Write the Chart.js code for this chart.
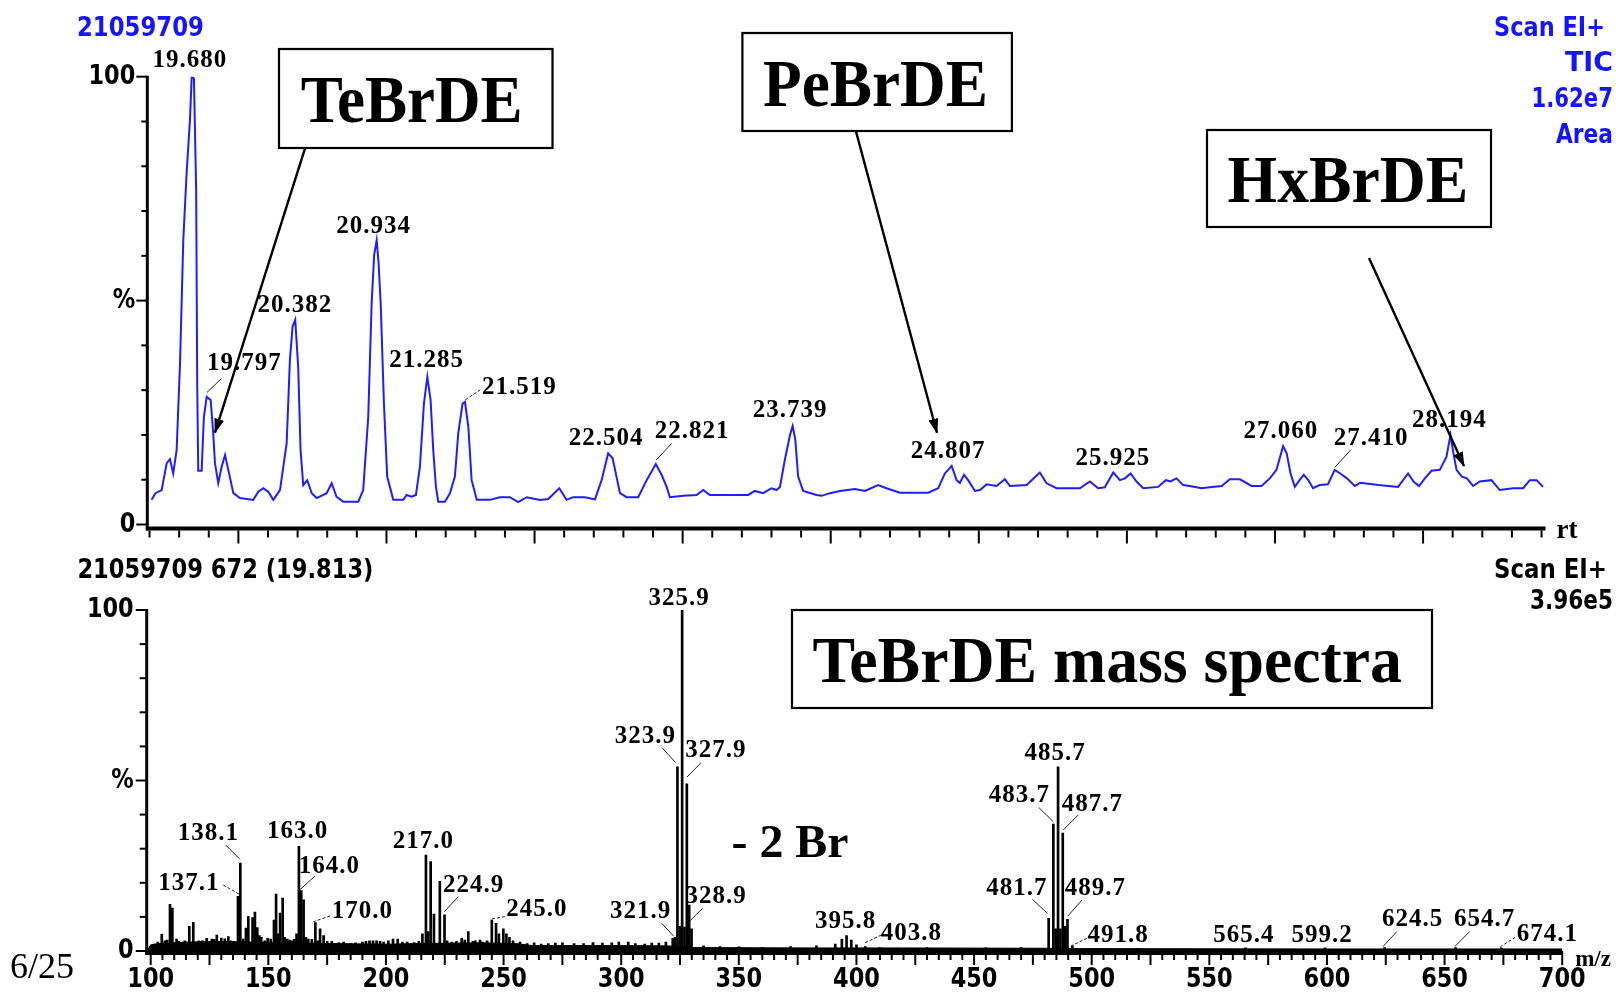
<!DOCTYPE html>
<html><head><meta charset="utf-8">
<script src="https://cdn.jsdelivr.net/npm/chart.js@4.4.1/dist/chart.umd.min.js"></script>
<style>
html,body{margin:0;padding:0;background:#fff;width:1619px;height:994px;overflow:hidden;}
canvas,svg{position:absolute;left:0;top:0;}
</style></head>
<body>
<canvas id="c1" width="1619" height="994"></canvas>
<canvas id="c2" width="1619" height="994"></canvas>
<svg width="1619" height="994" xmlns="http://www.w3.org/2000/svg">
 <defs>
  <marker id="ah" viewBox="0 0 15 10" refX="14" refY="5" markerWidth="15" markerHeight="10" markerUnits="userSpaceOnUse" orient="auto">
   <path d="M0,0 L15,5 L0,10 z" fill="#000"/>
  </marker>
 </defs>
 <g font-family="DejaVu Sans" font-weight="bold" font-size="27" fill="rgb(20,20,255)">
  <text x="77" y="36" textLength="127" lengthAdjust="spacingAndGlyphs">21059709</text>
  <text x="1494" y="36" textLength="111" lengthAdjust="spacingAndGlyphs">Scan EI+</text>
  <text x="1565" y="71" textLength="48" lengthAdjust="spacingAndGlyphs">TIC</text>
  <text x="1531.5" y="107" textLength="81.5" lengthAdjust="spacingAndGlyphs">1.62e7</text>
  <text x="1556" y="143" textLength="57" lengthAdjust="spacingAndGlyphs">Area</text>
 </g>
 <g font-family="DejaVu Sans" font-weight="bold" font-size="27" fill="#000">
  <text x="77.4" y="578" textLength="296" lengthAdjust="spacingAndGlyphs">21059709 672 (19.813)</text>
  <text x="1494" y="578" textLength="113" lengthAdjust="spacingAndGlyphs">Scan EI+</text>
  <text x="1530" y="609" textLength="83" lengthAdjust="spacingAndGlyphs">3.96e5</text>
 </g>
 <text x="10" y="978" font-family="Liberation Serif" font-size="36" fill="#000">6/25</text>
 <g fill="#fff" stroke="#000" stroke-width="2.2">
  <rect x="279" y="49" width="273.5" height="99"/>
  <rect x="742.4" y="33" width="269.5" height="98"/>
  <rect x="1207" y="130" width="284" height="97"/>
  <rect x="792" y="610" width="640" height="98"/>
 </g>
 <g font-family="Liberation Serif" font-weight="bold" fill="#000">
  <text x="300.7" y="121.7" font-size="68" textLength="222" lengthAdjust="spacingAndGlyphs">TeBrDE</text>
  <text x="763" y="106.3" font-size="68" textLength="225" lengthAdjust="spacingAndGlyphs">PeBrDE</text>
  <text x="1227.6" y="202.4" font-size="68" textLength="240.6" lengthAdjust="spacingAndGlyphs">HxBrDE</text>
  <text x="812.6" y="681.5" font-size="66" textLength="589.4" lengthAdjust="spacingAndGlyphs">TeBrDE mass spectra</text>
  <text x="731.5" y="857" font-size="46" textLength="117" lengthAdjust="spacingAndGlyphs">- 2 Br</text>
 </g>
 <g stroke="#000" stroke-width="2.4" marker-end="url(#ah)">
  <line x1="305" y1="148.3" x2="215" y2="432.7"/>
  <line x1="856" y1="131.5" x2="937" y2="432.7"/>
  <line x1="1369" y1="258" x2="1464" y2="466"/>
 </g>
</svg>
<script>
// ---------- TIC chromatogram (retention time in min, relative abundance %) ----------
const ticRt = [19.414,19.440,19.482,19.516,19.538,19.560,19.583,19.606,19.628,19.651,19.673,19.685,19.700,19.715,19.722,19.729,19.752,19.767,19.786,19.813,19.830,19.842,19.864,19.887,19.910,19.932,19.966,20.011,20.100,20.135,20.168,20.202,20.236,20.281,20.326,20.348,20.366,20.384,20.404,20.420,20.438,20.465,20.495,20.529,20.596,20.630,20.663,20.708,20.810,20.843,20.877,20.900,20.917,20.934,20.947,20.961,20.983,21.005,21.046,21.114,21.136,21.170,21.199,21.226,21.253,21.276,21.298,21.316,21.334,21.350,21.395,21.429,21.462,21.485,21.514,21.530,21.553,21.575,21.610,21.699,21.766,21.834,21.890,21.947,22.036,22.093,22.167,22.216,22.261,22.340,22.408,22.453,22.497,22.527,22.577,22.622,22.700,22.757,22.819,22.858,22.892,22.914,23.004,23.094,23.139,23.184,23.297,23.443,23.488,23.544,23.600,23.634,23.657,23.690,23.725,23.743,23.761,23.780,23.814,23.904,23.939,23.995,24.063,24.163,24.231,24.320,24.377,24.467,24.659,24.726,24.771,24.817,24.850,24.872,24.900,24.928,24.974,25.008,25.053,25.120,25.176,25.210,25.323,25.412,25.458,25.525,25.683,25.750,25.806,25.851,25.908,25.953,25.987,26.025,26.065,26.110,26.211,26.263,26.294,26.335,26.380,26.425,26.504,26.572,26.640,26.695,26.763,26.842,26.909,26.965,27.010,27.055,27.079,27.105,27.134,27.166,27.194,27.225,27.257,27.302,27.358,27.403,27.441,27.486,27.539,27.575,27.699,27.831,27.899,27.935,27.973,28.012,28.057,28.113,28.158,28.185,28.203,28.226,28.262,28.296,28.338,28.383,28.462,28.518,28.608,28.676,28.721,28.767,28.810];
const ticPct = [5.5,7.0,7.7,13.7,14.6,11.4,16.6,36.0,63.5,78.8,90.3,100,99.6,74.6,31.6,12.0,12.0,24.0,28.5,27.8,20.4,13.7,9.2,12.9,15.5,12.2,7.0,5.9,5.5,7.3,8.1,7.3,5.5,7.7,18.1,36.7,44.2,45.7,35.2,16.6,8.8,9.9,7.0,5.9,7.0,9.2,6.2,5.1,5.1,7.7,24.0,49.4,60.2,63.5,58.3,49.4,27.0,10.7,5.5,5.5,6.6,6.2,6.6,12.9,27.0,33.0,27.8,16.6,8.4,5.1,5.1,7.0,10.7,20.4,27.0,27.4,21.8,9.9,5.5,5.5,6.1,6.1,5.0,6.1,5.5,5.7,8.1,5.5,6.1,6.1,5.6,9.9,15.9,14.8,7.0,6.1,6.1,9.9,13.5,11.1,8.4,6.1,6.4,6.6,7.7,6.6,6.6,6.6,7.5,7.0,8.1,7.7,8.4,14.4,20.0,22.0,18.9,10.7,7.5,6.6,6.4,7.0,7.5,7.9,7.5,8.8,8.1,7.1,7.1,8.1,11.4,13.1,9.9,9.3,11.1,9.9,7.5,7.7,9.0,8.6,10.1,8.6,8.8,11.6,9.2,8.1,8.1,9.6,8.1,8.3,11.6,9.9,10.3,11.4,9.6,8.1,8.4,9.9,9.6,10.3,8.8,8.6,8.1,8.4,8.6,10.1,10.1,8.6,8.6,10.3,12.2,17.5,15.9,11.4,8.4,9.9,11.1,9.9,8.1,8.8,9.0,12.2,11.4,10.3,8.6,9.3,8.8,8.4,11.4,9.6,8.6,10.3,12.0,12.2,15.1,20.0,16.3,12.2,10.7,10.3,8.6,9.6,9.9,7.7,8.1,8.1,9.9,9.9,8.4];

// labelled chromatogram peaks
const topPeakRt  = [19.680,19.797,20.382,20.934,21.285,21.519,22.504,22.821,23.739,24.807,25.925,27.060,27.410,28.194];
const topPeakPct = [100,28.5,45.7,63.5,33.0,27.4,15.9,13.5,22.0,13.1,11.6,17.5,12.2,20.0];

// ---------- Mass spectrum (m/z, relative abundance %) ----------
const specMz = [101.5,103.0,104.7,106.0,107.0,108.2,109.2,111.0,112.0,113.0,114.5,116.4,118.1,119.5,120.5,122.0,123.8,125.0,126.0,127.0,128.1,130.0,131.5,133.0,134.0,135.0,136.0,137.1,138.1,139.3,140.5,141.5,143.3,144.3,145.3,146.2,147.0,148.5,149.7,151.0,152.4,153.3,154.2,155.0,156.1,157.0,158.0,159.0,160.0,161.0,162.0,163.0,164.0,165.0,166.0,167.0,168.5,170.0,171.0,172.0,173.5,175.0,177.0,180.0,182.0,185.0,187.0,190.0,191.5,193.0,194.5,196.0,197.5,199.0,201.0,203.0,205.0,207.0,209.0,212.0,214.0,215.5,217.0,218.0,219.0,220.4,222.9,224.9,226.0,228.0,230.0,232.2,233.5,235.0,237.0,238.0,240.0,241.0,243.0,245.0,246.8,248.0,249.9,251.2,252.5,254.0,257.0,260.0,263.0,266.0,269.0,272.0,275.0,280.0,284.0,288.0,292.0,296.0,299.0,303.0,306.0,310.0,313.0,316.0,319.0,321.9,322.9,323.9,324.9,325.9,326.9,327.9,328.9,329.9,335.0,342.0,350.0,360.0,372.0,383.0,391.0,393.8,395.8,397.8,400.0,403.8,410.0,430.0,455.0,470.0,481.7,483.7,484.7,485.7,486.7,487.7,488.7,489.7,491.8,520.0,565.4,599.2,624.5,654.7,674.1];
const specPct = [2.0,2.6,4.9,3.0,3.2,13.7,12.6,3.5,2.8,2.5,3.0,7.2,8.4,2.6,3.0,3.0,3.7,2.8,3.5,3.4,4.7,3.8,3.6,4.2,3.0,2.8,2.6,16.0,25.8,3.5,6.7,10.1,9.8,11.4,6.9,4.5,4.0,3.0,3.7,3.5,9.1,16.7,5.0,11.1,15.5,4.0,3.5,3.2,3.0,3.4,5.0,30.7,17.7,15.0,4.0,3.5,3.4,8.3,3.0,6.5,4.5,2.8,2.8,2.5,2.6,2.2,2.4,2.6,2.8,3.0,3.0,3.0,2.8,2.6,3.0,3.5,3.5,2.6,2.6,2.5,2.8,5.0,28.1,5.7,26.2,10.8,20.4,10.6,3.0,2.6,2.8,3.7,3.2,5.7,2.8,3.0,3.2,2.6,3.0,9.1,8.1,5.0,6.5,5.0,4.0,3.0,2.6,2.2,2.4,2.0,2.2,2.3,2.4,2.2,2.2,2.5,2.3,2.4,2.6,2.6,2.2,2.0,2.3,2.3,2.6,3.7,4.0,54.0,7.2,100,7.0,49.0,13.5,6.5,1.5,1.3,1.2,1.1,1.3,1.5,2.0,3.5,4.5,3.2,1.8,1.3,1.0,1.0,0.9,1.0,9.6,37.2,6.5,54.0,6.5,34.6,7.2,9.3,1.5,0.8,0.9,0.9,1.0,1.0,0.9];
// dense low-level noise floor of the spectrum
const floorMz  = [98.3,100,104,115,130,145,160,175,200,215,240,255,262,300,320,331,380,420,480,495,600,700];
const floorPct = [0,1.8,2.2,2.6,2.8,2.6,2.4,2.2,2.0,2.2,2.4,2.2,1.6,1.6,1.5,1.0,0.9,0.9,0.8,0.7,0.6,0.6];
// labelled ions
const msLabelMz  = [137.1,138.1,163.0,164.0,170.0,217.0,224.9,245.0,325.9,323.9,327.9,321.9,328.9,395.8,403.8,481.7,483.7,485.7,487.7,489.7,491.8,565.4,599.2,624.5,654.7,674.1];
const msLabelPct = [16.0,25.8,30.7,17.7,8.3,28.1,10.6,9.1,100,54.0,49.0,3.7,13.5,4.5,1.3,9.6,37.2,54.0,34.6,9.3,1.5,0.9,0.9,1.0,1.0,0.9];

// axis ticks
const rtTickStart = 19.4, rtMinor = 0.2;
const mzTickLabels = [100,150,200,250,300,350,400,450,500,550,600,650,700];
const pctLabels = {0:'0', 50:'%', 100:'100'};

// ---------- label placement (pixel offsets from the mark) ----------
// [dx, dy, leader: [x1,y1,x2,y2] or null, dashed]
const topLabelPlace = [
 [-1,-10,null],[36,-27,[13.4,-18.6,-1.6,-4.2]],[0,-8,null],[-3,-7,null],[-2,-10,null],
 [56,-8,[17,-12,2,-2],true],[-3,-8,null],[36,-26,[15.6,-20.7,0,-4]],[-2,-9,null],[-2,-8,null],
 [-3,-8,null],[-3,-8,null],[35.5,-25,[15,-20,-0.7,-2.6]],[-2.5,-8,null]
];
const msLabelPlace = [
 [-49,-6,[-14.7,-11.4,1,-2.4],true],[-32,-23,[-14.6,-18,-0.3,-3.7]],[-1.4,-8,null],[28,-18,[13.7,-14.6,-1.3,-1]],
 [47,-4.4,[14.6,-6.7,-2,-1],true],[-2.6,-7,null],[29,-23,[13.8,-18.2,-0.2,-3.2]],[45,-4,[13,-3.3,-1.8,-0.7],true],
 [-3,-5,null],[-32,-24,[-15,-18.7,-1.8,-4.3]],[29,-27,[14,-21,0,-6.7]],[-32,-20,[-11,-15,0.8,-2.4]],
 [27,-1.7,[13.4,3.3,-1.7,18.3]],[-1,-7.4,null],[46,-6.6,[16,-11.6,-1.4,-3.3],true],
 [-31.7,-23,[-16.3,-19,-1.3,-5]],[-34,-22,[-14.7,-16.8,0,-2.4]],[-3,-6.5,null],[29.6,-22.5,[15.4,-18,0.4,-3]],
 [28,-24,[14.6,-19.3,0.4,-3.3]],[45.6,-4.3,[14.5,-7.6,-1.4,0],true],[-1.6,-5.8,null],[-3,-5.8,null],
 [28,-22,[12.2,-16,-1.6,-1]],[29,-22,[14,-16,-0.8,-1]],[46,-7,[14,-10.7,-0.7,-1.3],true]
];

const SANS = 'bold 27px "DejaVu Sans"';
const SERIF_LBL = 'bold 25px "Liberation Serif"';
function sansText(ctx, txt, x, y, align){
  ctx.save(); ctx.font = SANS; ctx.textAlign = align; ctx.textBaseline = 'middle';
  ctx.translate(x, y); ctx.scale(0.83, 1); ctx.fillText(txt, 0, 0); ctx.restore();
}
function seg(ctx, x1, y1, x2, y2){ ctx.beginPath(); ctx.moveTo(x1, y1); ctx.lineTo(x2, y2); ctx.stroke(); }
function drawLabels(ctx, xs, ys, vals, pcts, place, digits){
  ctx.save();
  ctx.font = SERIF_LBL; ctx.fillStyle = '#000'; ctx.textAlign = 'center'; ctx.textBaseline = 'alphabetic';
  try { ctx.letterSpacing = '1px'; } catch(e) {}
  vals.forEach((v, i) => {
    const px = xs.getPixelForValue(v), py = ys.getPixelForValue(pcts[i]);
    const p = place[i];
    ctx.fillText(v.toFixed(digits), px + p[0], py + p[1]);
    if (p[2]) {
      ctx.save(); ctx.strokeStyle = '#222'; ctx.lineWidth = 1;
      if (p[3]) ctx.setLineDash([3, 2]);
      seg(ctx, px + p[2][0], py + p[2][1], px + p[2][2], py + p[2][3]);
      ctx.restore();
    }
  });
  ctx.restore();
}

const topAxes = {
  id: 'topAxes',
  afterDatasetsDraw(chart){
    const {ctx, scales:{x, y}} = chart;
    const ax = x.getPixelForValue(x.min);
    const axisY = y.getPixelForValue(0) + 4;
    ctx.save(); ctx.strokeStyle = '#000'; ctx.fillStyle = '#000';
    ctx.lineWidth = 3; seg(ctx, ax, y.getPixelForValue(100) - 1, ax, axisY + 2);
    ctx.lineWidth = 4; seg(ctx, ax - 1.5, axisY, x.getPixelForValue(x.max) + 1, axisY);
    ctx.lineWidth = 2;
    for (let v = 0; v <= 100; v += 10) {
      const py = y.getPixelForValue(v);
      seg(ctx, ax - (v % 50 === 0 ? 11 : 6), py, ax, py);
      if (pctLabels[v] !== undefined) sansText(ctx, pctLabels[v], ax - 12, py, 'right');
    }
    for (let k = 0; ; k++) {
      const v = rtTickStart + k * rtMinor;
      if (v > x.max + 1e-6) break;
      const px = x.getPixelForValue(v);
      const major = Math.abs(v - Math.round(v)) < 1e-6;
      seg(ctx, px, axisY + 2, px, axisY + 2 + (major ? 13 : 7));
    }
    ctx.font = 'bold 27px "Liberation Serif"'; ctx.textAlign = 'left'; ctx.textBaseline = 'middle';
    ctx.fillText('rt', x.getPixelForValue(x.max) + 12, axisY + 3);
    ctx.restore();
    drawLabels(ctx, x, y, topPeakRt, topPeakPct, topLabelPlace, 3);
  }
};

const botAxes = {
  id: 'botAxes',
  afterDatasetsDraw(chart){
    const {ctx, scales:{x, y}} = chart;
    const ax = x.getPixelForValue(x.min);
    const axisY = y.getPixelForValue(0) + 2;
    ctx.save(); ctx.strokeStyle = '#000'; ctx.fillStyle = '#000';
    ctx.lineWidth = 3; seg(ctx, ax, y.getPixelForValue(100) - 1, ax, axisY + 2);
    ctx.lineWidth = 4; seg(ctx, ax - 1.5, axisY, x.getPixelForValue(x.max) + 1, axisY);
    ctx.lineWidth = 2;
    for (let v = 0; v <= 100; v += 10) {
      const py = y.getPixelForValue(v);
      seg(ctx, ax - (v % 50 === 0 ? 11 : 7), py, ax, py);
      if (pctLabels[v] !== undefined) sansText(ctx, pctLabels[v], ax - 13, py, 'right');
    }
    for (let v = 100; v <= 700; v += 5) {
      const px = x.getPixelForValue(v);
      seg(ctx, px, axisY + 2, px, axisY + 2 + (v % 25 === 0 ? 10 : 5));
    }
    mzTickLabels.forEach(v => sansText(ctx, String(v), x.getPixelForValue(v), axisY + 27, 'center'));
    ctx.font = 'bold 23px "Liberation Serif"'; ctx.textAlign = 'left'; ctx.textBaseline = 'middle';
    ctx.fillText('m/z', x.getPixelForValue(x.max) + 13, axisY + 7);
    ctx.restore();
    drawLabels(ctx, x, y, msLabelMz, msLabelPct, msLabelPlace, 1);
  }
};

const common = { responsive:false, animation:false, devicePixelRatio:1, events:[],
  plugins:{legend:{display:false}, tooltip:{enabled:false}} };

new Chart(document.getElementById('c1'), {
  type: 'line',
  data: { datasets: [{ data: ticRt.map((r, i) => ({x: r, y: ticPct[i]})),
    borderColor: 'rgb(30,30,255)', borderWidth: 2, pointRadius: 0, tension: 0, fill: false }] },
  options: Object.assign({}, common, {
    layout: { padding: { left: 147.3, right: 74.5, top: 76.7, bottom: 469.5 } },
    scales: { x: { type: 'linear', min: 19.385, max: 28.82, display: false },
              y: { type: 'linear', min: 0, max: 100, display: false } }
  }),
  plugins: [topAxes]
});

new Chart(document.getElementById('c2'), {
  type: 'bar',
  data: { datasets: [
    { type: 'bar', data: specMz.map((m, i) => ({x: m, y: specPct[i]})), backgroundColor: '#000',
      barThickness: 2, order: 1 },
    { type: 'line', data: floorMz.map((m, i) => ({x: m, y: floorPct[i]})), borderColor: '#000',
      backgroundColor: '#000', borderWidth: 1, fill: 'origin', pointRadius: 0, tension: 0, order: 2 }
  ] },
  options: Object.assign({}, common, {
    layout: { padding: { left: 146.7, right: 56.8, top: 610, bottom: 43 } },
    scales: { x: { type: 'linear', min: 98.3, max: 700, offset: false, display: false },
              y: { type: 'linear', min: 0, max: 100, display: false } }
  }),
  plugins: [botAxes]
});
</script>
</body></html>
